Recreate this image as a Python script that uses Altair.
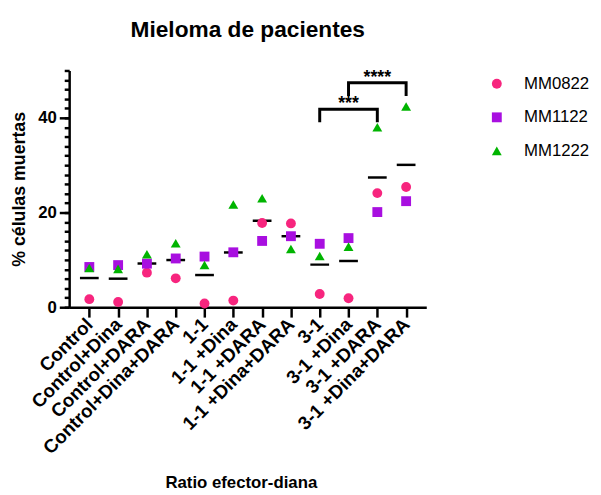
import altair as alt
import pandas as pd

categories = ["Control", "Control+Dina", "Control+DARA", "Control+Dina+DARA",
              "1-1", "1-1 +Dina", "1-1 +DARA", "1-1 +Dina+DARA",
              "3-1", "3-1 +Dina", "3-1 +DARA", "3-1 +Dina+DARA"]
series = ["MM0822", "MM1122", "MM1222"]
mm0822 = [1.7, 1.1, 7.3, 6.1, 0.8, 1.4, 17.8, 17.7, 2.8, 1.9, 24.1, 25.4]
mm1122 = [8.5, 8.9, 9.2, 10.3, 10.7, 11.6, 14.0, 15.0, 13.4, 14.6, 20.1, 22.4]
mm1222 = [8.3, 8.1, 11.2, 13.5, 8.9, 21.7, 23.0, 12.3, 10.8, 12.8, 38.0, 42.4]
colors = ["#F7257E", "#A80FE0", "#00B400"]
shapes = ["circle", "square", "triangle-up"]
major_ticks = [0, 20, 40]
minor_ticks = list(range(0, 52, 2))

# significance brackets: (from, to, leg bottom, bracket top, label, label category, label y)
brackets = [
    ("3-1", "3-1 +DARA", 39.4, 41.8, "***", "3-1 +Dina", 43.0),
    ("3-1 +Dina", "3-1 +Dina+DARA", 44.9, 47.4, "****", "3-1 +DARA", 48.4),
]

rows = []
for s, vals in zip(series, [mm0822, mm1122, mm1222]):
    for c, v in zip(categories, vals):
        rows.append({"cat": c, "serie": s, "val": v})
df = pd.DataFrame(rows)

brows, trows = [], []
for i, (a, b, lo, hi, lab, lc, ly) in enumerate(brackets):
    for k, (c, v) in enumerate([(a, lo), (a, hi), (b, hi), (b, lo)]):
        brows.append({"br": i, "ord": k, "cat": c, "val": v})
    trows.append({"cat": lc, "val": ly, "lab": lab})
bdf = pd.DataFrame(brows)
tdf = pd.DataFrame(trows)

FONT = "Liberation Sans"
yscale = alt.Scale(domain=[0, 50], nice=False)

xenc = alt.X("cat:N", sort=categories,
             scale=alt.Scale(type="point", padding=0.7),
             axis=alt.Axis(title="Ratio efector-diana", labelAngle=-45,
                           labelAlign="right", labelBaseline="middle",
                           labelFont=FONT, labelFontSize=19, labelFontWeight="bold",
                           labelColor="black", labelPadding=4, labelLimit=400,
                           labelOverlap=False,
                           tickSize=10, tickWidth=2.5, tickColor="black",
                           domainWidth=2.5, domainColor="black",
                           titleFont=FONT, titleFontSize=17, titleFontWeight="bold",
                           titleColor="black", titleX=174, titleY=170,
                           titleBaseline="top", grid=False))

ymajor = alt.Y("val:Q", scale=yscale,
               axis=alt.Axis(title="% células muertas", orient="left",
                             values=major_ticks, labelOverlap=False,
                             tickSize=10, tickWidth=2.5, tickColor="black",
                             domainWidth=2.5, domainColor="black",
                             labelFont=FONT, labelFontSize=17, labelFontWeight="bold",
                             labelColor="black", labelPadding=3,
                             titleFont=FONT, titleFontSize=18, titleFontWeight="bold",
                             titleColor="black", titlePadding=9, grid=False))

points = alt.Chart(df).mark_point(filled=True, opacity=1).encode(
    x=xenc, y=ymajor,
    color=alt.Color("serie:N", scale=alt.Scale(domain=series, range=colors),
                    legend=alt.Legend(title=None, orient="none", legendX=425, legendY=5,
                                      labelFont=FONT, labelFontSize=17, labelColor="black",
                                      labelLimit=200,
                                      labelOffset=19, rowPadding=16, symbolSize=100)),
    shape=alt.Shape("serie:N", scale=alt.Scale(domain=series, range=shapes)),
    size=alt.Size("serie:N", scale=alt.Scale(domain=series, range=[100, 100, 140]), legend=None),
)

means = alt.Chart(df).mark_tick(color="black", thickness=2.5, size=19).encode(
    x=alt.X("cat:N", sort=categories),
    y=alt.Y("mean(val):Q", scale=yscale,
            axis=alt.Axis(title=None, orient="left", values=minor_ticks,
                          labels=False, domain=False, grid=False,
                          tickSize=5, tickWidth=2.5, tickColor="black")),
)

lines = alt.Chart(bdf).mark_line(color="black", strokeWidth=3, strokeJoin="miter", strokeCap="square").encode(
    x=alt.X("cat:N", sort=categories),
    y=alt.Y("val:Q", scale=yscale, axis=None),
    detail="br:N",
    order="ord:Q",
)

stars = alt.Chart(tdf).mark_text(font=FONT, fontSize=18, fontWeight="bold", color="black",
                                 baseline="middle").encode(
    x=alt.X("cat:N", sort=categories),
    y=alt.Y("val:Q", scale=yscale, axis=None),
    text="lab:N",
)

chart = alt.layer(means, lines, stars, points).resolve_axis(y="independent").properties(
    width=362, height=240,
    title=alt.Title("Mieloma de pacientes", font=FONT, fontSize=23, fontWeight="bold",
                    color="black", anchor="middle", frame="group", offset=28),
    padding={"left": 62, "top": 60, "right": 169, "bottom": 187},
    autosize=alt.AutoSizeParams(type="none"),
).configure_view(stroke=None)

chart.save("out.html", embed_options={"renderer": "svg", "actions": False})
